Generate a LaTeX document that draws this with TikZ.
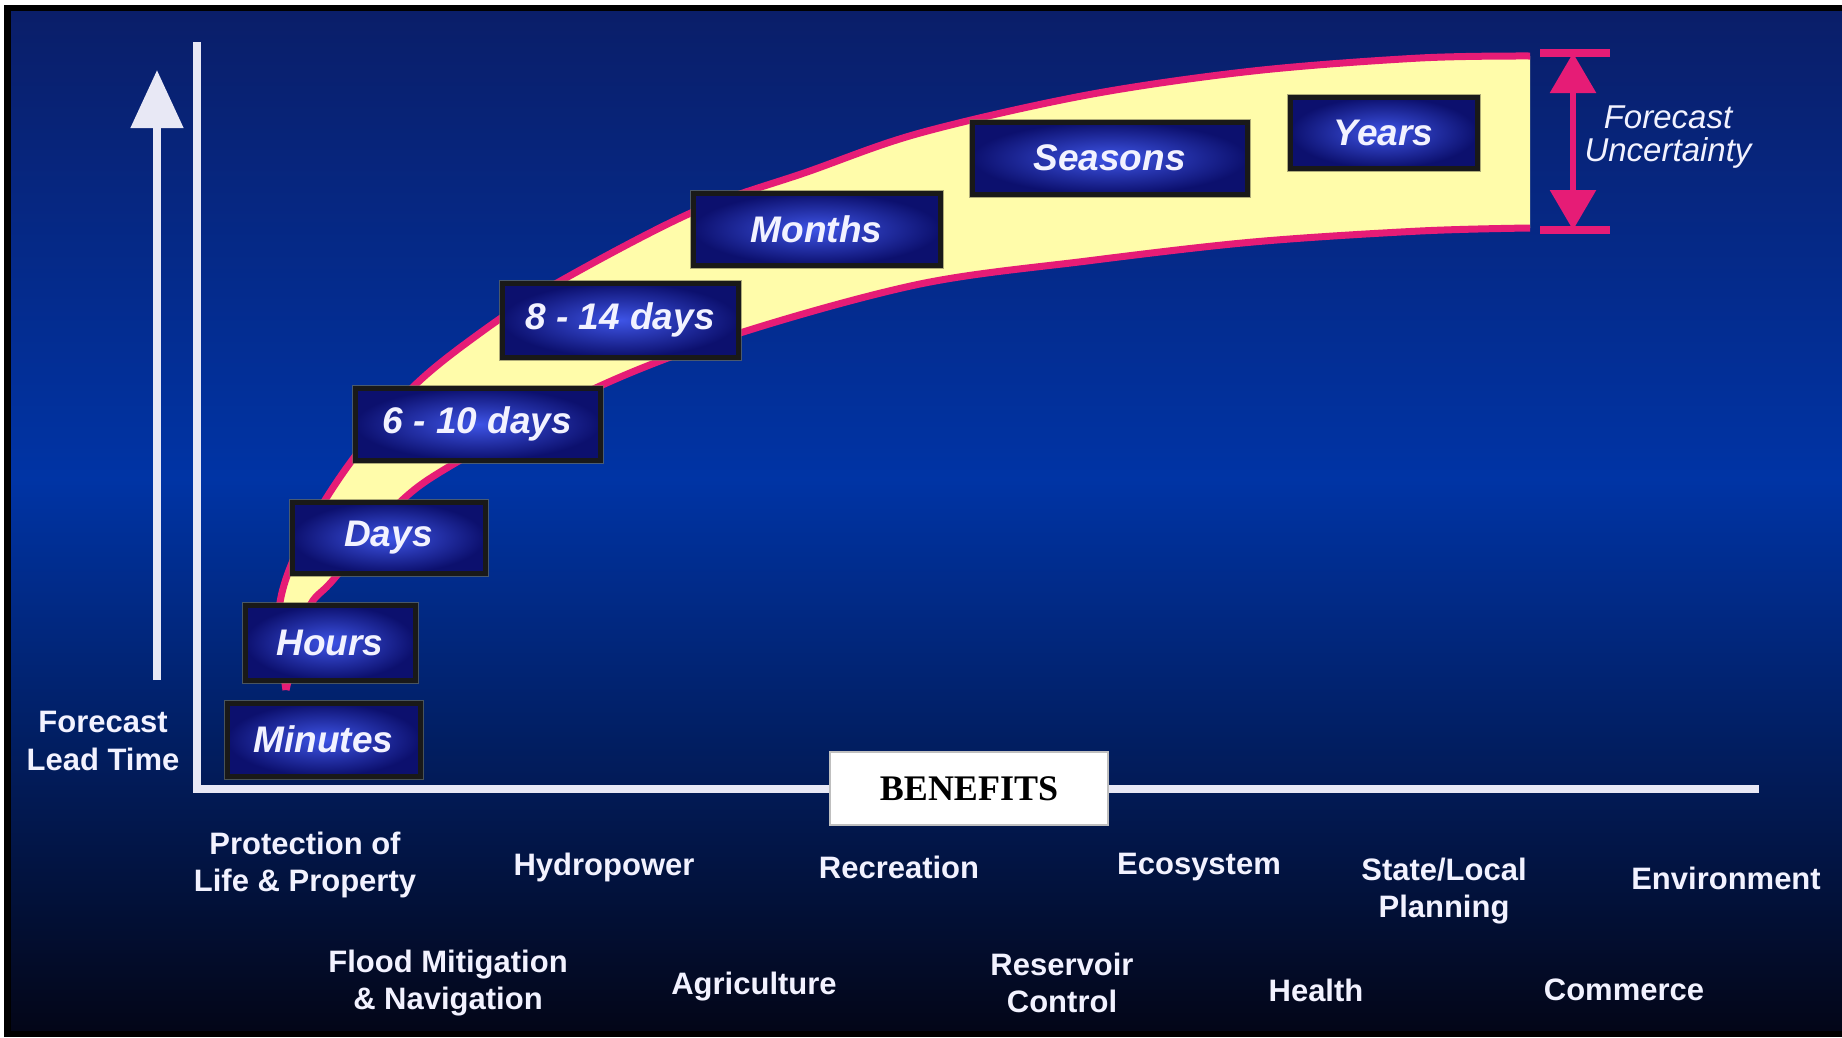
\documentclass[tikz,border=0pt]{standalone}
\usepackage{fontspec}
\setmainfont{Liberation Sans}
\newfontfamily\benefitsfont{Liberation Serif}
\usepackage{tikz}
\usetikzlibrary{arrows.meta}

\definecolor{bgtop}{RGB}{10,30,105}
\definecolor{bgmid}{RGB}{0,52,165}
\definecolor{bgbot}{RGB}{3,6,24}
\definecolor{bandpink}{RGB}{230,28,118}
\definecolor{bandyellow}{RGB}{255,252,170}
\definecolor{boxedge}{RGB}{12,16,110}
\definecolor{boxglow}{RGB}{62,84,230}
\definecolor{boxhalo}{RGB}{120,118,85}
\definecolor{axiswhite}{RGB}{232,232,245}
\definecolor{labelwhite}{RGB}{242,242,255}

\begin{document}
\begin{tikzpicture}[x=1pt,y=-1pt,
  timebox/.style={draw=black!90, line width=5pt, inner color=boxglow,
    outer color=boxedge, text=labelwhite,
    preaction={draw=boxhalo, draw opacity=0.6, line width=7pt},
    font=\fontsize{37}{40}\selectfont\bfseries\itshape},
  benefit/.style={text=labelwhite, align=center,
    font=\fontsize{31}{37}\selectfont\bfseries},
  axis/.style={draw=axiswhite, line width=8pt},
  pinkline/.style={draw=bandpink, line width=7pt}
  ]
  \useasboundingbox (0,0) rectangle (1842,1037);
  \fill[white] (0,0) rectangle (1842,1037);
  \fill[black] (4,5) rectangle (1842,1037);
  \shade[top color=bgtop, bottom color=bgmid] (11,11) rectangle (1842,480);
  \shade[top color=bgmid, bottom color=bgbot] (11,479) rectangle (1842,1030);

  \def\upperedge{(286,690) (279,610) (300,545) (345,470) (410,390) (480,333)
    (557,283) (693,212) (807,172) (920,133) (1087,95) (1253,71) (1420,58)
    (1530,56)}
  \def\loweredge{(1530,228) (1420,231) (1253,242) (1087,261) (920,284)
    (740,333) (600,386) (457,462) (397,505) (333,580) (308,610) (286,690)}
  \fill[bandyellow] plot[smooth,tension=0.55] coordinates {\upperedge}
    -- plot[smooth,tension=0.55] coordinates {\loweredge} -- cycle;
  \draw[pinkline] plot[smooth,tension=0.55] coordinates {\upperedge};
  \draw[pinkline] plot[smooth,tension=0.55] coordinates {\loweredge};

  \coordinate (ytop) at (197,42);
  \coordinate (origin) at (197,789);
  \coordinate (xend) at (1759,789);
  \draw[axis, line join=miter] (ytop) -- (origin) -- (xend);

  \coordinate (leadfoot) at (157,680);
  \coordinate (leadtip) at (157,70);
  \draw[axiswhite, line width=8pt, -{Triangle[width=51pt,length=58pt]}]
    (leadfoot) -- (leadtip);
  \node[text=labelwhite, align=center, font=\fontsize{31}{38}\selectfont\bfseries]
    (leadtime) at (103,741) {Forecast\\Lead Time};

  \node[timebox, minimum width=193pt, minimum height=73pt] (minutes) at (323.5,739.5) {Minutes};
  \node[timebox, minimum width=170pt, minimum height=75pt] (hours) at (330,642.5) {Hours};
  \node[timebox, minimum width=193pt, minimum height=71pt] (days) at (388.5,537.5) {Days};
  \node[timebox, minimum width=245pt, minimum height=72pt] (sixten) at (477.5,424) {6 - 10 days};
  \node[timebox, minimum width=236pt, minimum height=74pt] (eightfourteen) at (620,320) {8 - 14 days};
  \node[timebox, minimum width=247pt, minimum height=72pt] (months) at (816.5,229) {Months};
  \node[timebox, minimum width=275pt, minimum height=72pt] (seasons) at (1109.5,158) {Seasons};
  \node[timebox, minimum width=187pt, minimum height=71pt] (years) at (1383.5,132.5) {Years};

  \coordinate (unctop) at (1573,53);
  \coordinate (uncbot) at (1573,230);
  \draw[bandpink, line width=8pt] ([xshift=-33pt]unctop) -- ([xshift=37pt]unctop);
  \draw[bandpink, line width=8pt] ([xshift=-33pt]uncbot) -- ([xshift=37pt]uncbot);
  \draw[bandpink, line width=6pt,
    {Triangle[width=45pt,length=40pt]}-{Triangle[width=45pt,length=40pt]}]
    (unctop) -- (uncbot);
  \node[text=labelwhite, align=center, font=\fontsize{33}{33}\selectfont\itshape]
    (uncertainty) at (1668,137) {Forecast\\Uncertainty};

  \node[draw=gray!50, line width=1.5pt, fill=white, minimum width=278pt,
    minimum height=73pt, font=\benefitsfont\fontsize{36}{40}\selectfont\bfseries]
    (benefits) at (969,788.5) {BENEFITS};

  \node[benefit] (protection) at (305,865) {Protection of\\Life \& Property};
  \node[benefit] (hydropower) at (604,867) {Hydropower};
  \node[benefit] (recreation) at (899,867) {Recreation};
  \node[benefit] (ecosystem) at (1199,867) {Ecosystem};
  \node[benefit] (planning) at (1444,891) {State/Local\\Planning};
  \node[benefit] (environment) at (1726,878) {Environment};
  \node[benefit] (flood) at (448,983) {Flood Mitigation\\\& Navigation};
  \node[benefit] (agriculture) at (754,987) {Agriculture};
  \node[benefit] (reservoir) at (1062,983) {Reservoir\\Control};
  \node[benefit] (health) at (1316,990) {Health};
  \node[benefit] (commerce) at (1624,990) {Commerce};
\end{tikzpicture}
\end{document}
